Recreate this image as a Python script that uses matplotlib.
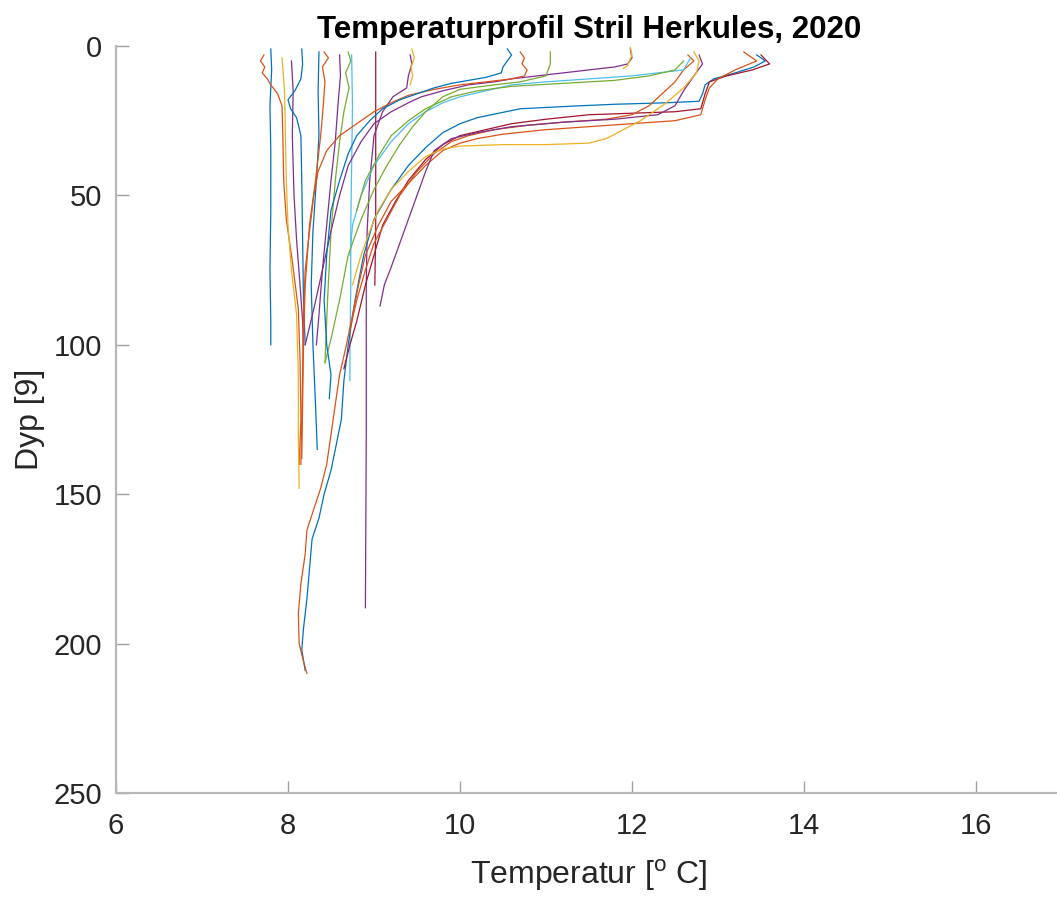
import matplotlib
matplotlib.use("Agg")
import matplotlib.pyplot as plt

plt.rcParams['font.family'] = ['Liberation Sans', 'DejaVu Sans']
plt.rcParams['mathtext.fontset'] = 'custom'
plt.rcParams['mathtext.rm'] = 'Liberation Sans'

# MATLAB standard fargerekkefolge
blaa = '#0072BD'
oransje = '#D95319'
gul = '#EDB120'
lilla = '#7E2F8E'
gronn = '#77AC30'
cyan = '#4DBEEE'
rod = '#A2142F'

# Kalde profiler (nesten homogene)
k01_t = [7.80, 7.81, 7.79, 7.80, 7.80, 7.79, 7.80, 7.80]
k01_d = [1, 8, 20, 35, 55, 75, 92, 100]
k02_t = [7.72, 7.68, 7.73, 7.70, 7.76, 7.80, 7.88, 7.93, 7.94, 7.95, 7.98, 8.05, 8.12, 8.14, 8.15, 8.13]
k02_d = [3, 5, 7, 9, 11, 13, 16, 20, 30, 45, 58, 72, 88, 105, 125, 140]
k03_t = [7.93, 7.96, 7.97, 7.98, 8.00, 8.04, 8.10, 8.12, 8.12, 8.13]
k03_d = [4, 15, 30, 45, 60, 75, 90, 110, 130, 148]
k04_t = [8.04, 8.06, 8.05, 8.07, 8.10, 8.14, 8.17, 8.18]
k04_d = [5, 15, 30, 50, 65, 80, 92, 102]
k05_t = [8.16, 8.17, 8.15, 8.08, 8.00, 8.03, 8.10, 8.15, 8.16, 8.17, 8.18, 8.20]
k05_d = [1, 6, 11, 15, 18, 21, 24, 30, 45, 65, 85, 100]
k06_t = [8.36, 8.35, 8.36, 8.33, 8.29, 8.27, 8.29, 8.32, 8.34]
k06_d = [2, 15, 30, 45, 62, 80, 100, 120, 135]
k07_t = [8.42, 8.47, 8.40, 8.43, 8.41, 8.38, 8.32, 8.25, 8.20, 8.18, 8.17, 8.16]
k07_d = [2, 4, 7, 12, 20, 30, 45, 60, 80, 100, 120, 138]
k08_t = [8.60, 8.61, 8.58, 8.55, 8.50, 8.45, 8.40, 8.36, 8.33]
k08_d = [3, 10, 20, 32, 45, 60, 75, 90, 100]
k09_t = [8.70, 8.73, 8.67, 8.71, 8.65, 8.60, 8.55, 8.50, 8.46, 8.43]
k09_d = [2, 5, 9, 14, 22, 32, 45, 62, 85, 106]
k10_t = [8.74, 8.75, 8.74, 8.73, 8.73, 8.72, 8.72]
k10_d = [3, 20, 40, 60, 80, 100, 112]
k11_t = [9.02, 9.02, 9.02, 9.01]
k11_d = [2, 30, 60, 80]
k12_t = [9.42, 9.44, 9.40, 9.38, 9.22, 9.10, 9.00, 8.95, 8.92, 8.91, 8.91, 8.90]
k12_d = [3, 6, 10, 14, 17, 22, 30, 45, 62, 80, 130, 188]
k13_t = [9.44, 9.47, 9.43, 9.45, 9.42]
k13_d = [1, 4, 7, 10, 13]

# Varme profiler (med termoklin)
v01_t = [13.45, 13.55, 13.42, 13.2, 12.95, 12.85, 12.82, 12.78, 12.4, 11.8, 11.4, 10.7, 10.2, 10.0, 9.8, 9.6, 9.4,
         9.2, 9.0, 8.88, 8.78, 8.70, 8.65, 8.62, 8.55, 8.50, 8.42, 8.36, 8.28, 8.25, 8.22, 8.18, 8.16, 8.20]
v01_d = [3, 5, 7, 9, 11, 13, 16, 18.5, 19, 19.5, 20, 21, 24, 26, 29, 34, 40,
         48, 58, 70, 85, 100, 112, 125, 135, 142, 150, 158, 165, 175, 185, 195, 202, 209]
v02_t = [13.5, 13.6, 13.4, 13.1, 12.9, 12.85, 12.8, 12.5, 12.0, 11.5, 11.0, 10.6, 10.3, 10.0, 9.8, 9.6, 9.4, 9.25,
         9.1, 9.0, 8.9, 8.8, 8.72, 8.65]
v02_d = [3, 6, 8, 10, 12, 16, 21, 22, 22.5, 23, 24.5, 26, 28, 30, 33, 38, 45, 52,
         60, 70, 80, 92, 100, 108]
v03_t = [13.3, 13.45, 13.2, 13.0, 12.9, 12.85, 12.8, 12.5, 12.0, 11.5, 11.0, 10.5, 10.2, 10.0, 9.8, 9.6, 9.4, 9.2,
         9.05, 8.9, 8.82, 8.75, 8.68, 8.60, 8.55, 8.50, 8.45, 8.38, 8.30, 8.22, 8.20, 8.15, 8.12, 8.13, 8.18, 8.22]
v03_d = [2, 5, 8, 11, 14, 18, 23, 25, 26, 27, 28, 29.5, 31, 32.5, 35, 40, 46, 52,
         60, 70, 80, 90, 100, 110, 120, 130, 140, 148, 155, 162, 170, 180, 190, 200, 206, 210]
v04_t = [12.65, 12.72, 12.6, 12.5, 12.35, 12.2, 12.0, 11.7, 11.2, 10.8, 10.4, 10.1, 9.9, 9.7, 9.5, 9.3, 9.15,
         9.0, 8.9, 8.8, 8.72]
v04_d = [3, 5, 8, 12, 16, 20, 23, 24.5, 25.5, 26.5, 28, 30, 32, 36, 42, 50, 58, 66, 75, 85, 95]
v05_t = [12.78, 12.82, 12.72, 12.6, 12.5, 12.3, 11.8, 11.2, 10.6, 10.2, 9.9, 9.7, 9.6, 9.5, 9.4, 9.3, 9.2,
         9.12, 9.07]
v05_d = [3, 6, 10, 15, 20, 23, 24.5, 25.5, 27, 29, 31, 35, 42, 50, 58, 66, 74, 80, 87]
v06_t = [12.72, 12.78, 12.75, 12.6, 12.4, 12.25, 12.1, 11.9, 11.7, 11.5, 11.0, 10.5, 10.0, 9.8, 9.6, 9.4, 9.2,
         9.05, 8.95, 8.85, 8.75]
v06_d = [2, 5, 9, 14, 19, 22, 25, 28, 31, 32.5, 33, 33, 33.5, 34.5, 37, 42, 48, 55, 62, 70, 80]
v07_t = [12.68, 12.6, 12.0, 11.5, 11.0, 10.6, 10.3, 10.0, 9.8, 9.6, 9.4, 9.2, 9.0, 8.85, 8.75, 8.72]
v07_d = [4, 8, 10, 11, 12, 13, 15, 17, 19, 22, 26, 32, 40, 50, 60, 70]
v08_t = [11.98, 12.0, 11.95, 11.8, 11.5, 11.2, 10.9, 10.6, 10.4, 10.1, 9.8, 9.55, 9.4, 9.2, 9.0, 8.85, 8.7,
         8.6, 8.5, 8.4, 8.3, 8.2]
v08_d = [1, 4, 6, 7, 8, 9, 10, 11, 12, 13, 15, 17, 19, 22, 26, 32, 40, 50, 62, 75, 88, 100]
v09_t = [11.98, 12.0, 11.97, 11.95, 11.9]
v09_d = [0.5, 3, 5, 6.5, 7.5]
v10_t = [11.05, 11.05, 11.0, 10.7, 10.4, 10.0, 9.8, 9.6, 9.45, 9.3, 9.15, 9.0, 8.85, 8.7, 8.6, 8.5, 8.43]
v10_d = [2, 6, 10, 12, 13, 14.5, 17, 22, 27, 33, 40, 48, 58, 70, 85, 98, 106]
v11_t = [12.6, 12.5, 12.2, 11.8, 11.2, 10.6, 10.2, 9.9, 9.6, 9.4, 9.2, 9.05, 8.9, 8.8]
v11_d = [5, 8, 10, 11.5, 12.5, 13.5, 15, 17, 21, 25, 30, 37, 45, 55]
v12_t = [10.7, 10.75, 10.72, 10.78, 10.75, 10.6, 10.3, 10.0, 9.7, 9.4, 9.2, 9.0, 8.8, 8.6, 8.45, 8.35, 8.3,
         8.25, 8.2, 8.18, 8.17, 8.16, 8.15]
v12_d = [2, 4, 6, 8, 10, 11, 12, 13, 14.5, 16.5, 19, 22, 26, 30, 35, 42, 50, 62, 75, 90, 110, 125, 140]
v13_t = [10.55, 10.6, 10.55, 10.5, 10.48, 10.3, 10.1, 9.9, 9.7, 9.5, 9.3, 9.1, 8.95, 8.8, 8.7, 8.6, 8.5,
         8.45, 8.42, 8.45, 8.5, 8.48]
v13_d = [1, 3, 5, 7, 9, 10.5, 11.5, 12.5, 14, 16, 18, 21, 25, 30, 36, 45, 55, 70, 85, 100, 110, 118]

profiler = [
    (k01_t, k01_d, blaa), (k02_t, k02_d, oransje), (k03_t, k03_d, gul), (k04_t, k04_d, lilla),
    (k05_t, k05_d, blaa), (k06_t, k06_d, blaa), (k07_t, k07_d, oransje), (k08_t, k08_d, lilla),
    (k09_t, k09_d, gronn), (k10_t, k10_d, cyan), (k11_t, k11_d, rod), (k12_t, k12_d, lilla),
    (k13_t, k13_d, gul),
    (v01_t, v01_d, blaa), (v02_t, v02_d, rod), (v03_t, v03_d, oransje), (v04_t, v04_d, oransje),
    (v05_t, v05_d, lilla), (v06_t, v06_d, gul), (v07_t, v07_d, cyan), (v08_t, v08_d, lilla),
    (v09_t, v09_d, gul), (v10_t, v10_d, gronn), (v11_t, v11_d, gronn), (v12_t, v12_d, oransje),
    (v13_t, v13_d, blaa),
]

fig = plt.figure(figsize=(10.57, 8.97), dpi=100)
ax = fig.add_axes([116 / 1057, 104 / 897, 946 / 1057, 747 / 897])

for t, d, farge in profiler:
    ax.plot(t, d, color=farge, lw=0.9)

ax.set_xlim(6, 17)
ax.set_ylim(250, 0)
ax.set_xticks([6, 8, 10, 12, 14, 16])
ax.set_yticks([0, 50, 100, 150, 200, 250])

for s in ['top', 'right']:
    ax.spines[s].set_visible(False)
for s in ['left', 'bottom']:
    ax.spines[s].set_color('#b8b8b8')
    ax.spines[s].set_linewidth(1.6)
ax.tick_params(direction='in', length=9, width=1.0, color='#a0a0a0',
               labelsize=21, labelcolor='#262626')
ax.tick_params(axis='x', pad=14)
ax.tick_params(axis='y', pad=10)

ax.set_title('Temperaturprofil Stril Herkules, 2020', fontsize=22.5, fontweight='bold', pad=6)
ax.set_xlabel(r'Temperatur [$^\mathregular{o}$ C]', fontsize=23, color='#262626', labelpad=12)
ax.set_ylabel('Dyp [9]', fontsize=23, color='#262626', labelpad=6)

fig.savefig('out.png', dpi=100)
